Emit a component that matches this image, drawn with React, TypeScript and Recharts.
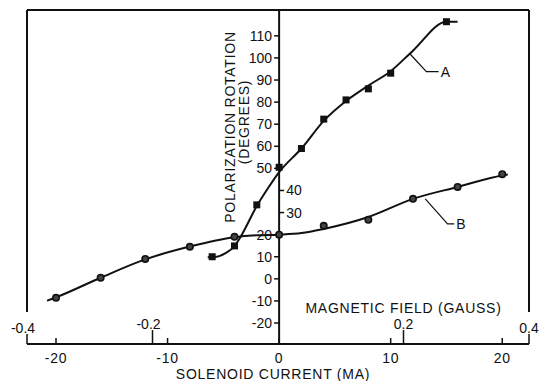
import React from "react";
import {
  ComposedChart,
  Line,
  Scatter,
  XAxis,
  YAxis,
  ReferenceLine,
  ReferenceDot,
} from "recharts";

const FONT = '"Liberation Sans", Arial, sans-serif';
const INK = "#111";

// solenoid current (mA), bottom scale
const currentTicks = [-20, -10, 0, 10, 20];
const currentDomain = [-22.6, 22.4];
// magnetic field (gauss), drawn on the same baseline; its span is the full plot width
const fieldTicks = [-0.4, -0.2, 0.2, 0.4];
const fieldDomain = [-0.4, 0.4];
// polarization rotation (degrees)
const rotationDomain = [-29.5, 121.7];
const rotationTicksLeft = [110, 100, 90, 80, 70, 60, 50, 20, 10, 0, -10, -20];
const rotationTicksRight = [40, 30];

// curve A (squares)
const pointsA = [
  { x: -6, y: 10 },
  { x: -4, y: 14.9 },
  { x: -2, y: 33.5 },
  { x: 0, y: 50.5 },
  { x: 2, y: 59 },
  { x: 4, y: 72.3 },
  { x: 6, y: 81 },
  { x: 8, y: 86 },
  { x: 10, y: 93.1 },
  { x: 15, y: 116.4 },
];
const curveA = [
  { x: -6.4, y: 9.8 },
  { x: -5.6, y: 10 },
  { x: -4.8, y: 11.6 },
  { x: -4, y: 14.8 },
  { x: -3.4, y: 19.5 },
  { x: -2, y: 33 },
  { x: -1, y: 41 },
  { x: 0, y: 48.3 },
  { x: 2, y: 59 },
  { x: 4, y: 71.5 },
  { x: 6, y: 80.5 },
  { x: 8, y: 87.5 },
  { x: 10, y: 94 },
  { x: 12, y: 103.3 },
  { x: 15, y: 116.4 },
  { x: 16, y: 116.4 },
];

// curve B (circles)
const pointsB = [
  { x: -20, y: -8.6 },
  { x: -16, y: 0.5 },
  { x: -12, y: 9 },
  { x: -8, y: 14.5 },
  { x: -4, y: 19 },
  { x: 0, y: 20 },
  { x: 4, y: 24 },
  { x: 8, y: 26.7 },
  { x: 12, y: 36.2 },
  { x: 16, y: 41.6 },
  { x: 20, y: 47.4 },
];
const curveB = [
  { x: -20.8, y: -9.9 },
  { x: -20, y: -8.4 },
  { x: -16, y: 0.5 },
  { x: -12, y: 8.8 },
  { x: -8, y: 14.6 },
  { x: -4, y: 18.8 },
  { x: -2, y: 19.7 },
  { x: 0, y: 20 },
  { x: 2, y: 20.7 },
  { x: 4, y: 22.6 },
  { x: 8, y: 28 },
  { x: 12, y: 36.2 },
  { x: 16, y: 41.6 },
  { x: 20, y: 46.8 },
  { x: 20.5, y: 47.2 },
];

const leaderA = [
  { x: 11.7, y: 102 },
  { x: 13.2, y: 93.8 },
  { x: 14.3, y: 93.8 },
];
const leaderB = [
  { x: 13.1, y: 36.2 },
  { x: 15.1, y: 24.9 },
  { x: 15.7, y: 24.9 },
];

// gauss -> mA position on the shared baseline
const fieldToCurrent = (g: number) =>
  currentDomain[0] +
  ((g - fieldDomain[0]) / (fieldDomain[1] - fieldDomain[0])) *
    (currentDomain[1] - currentDomain[0]);

const titleStyle: React.CSSProperties = {
  fontFamily: FONT,
  fontSize: 14,
  letterSpacing: 0.75,
  fill: INK,
};

function CurrentTick({ x, y, payload }: any) {
  return (
    <g>
      <line x1={x} x2={x} y1={y} y2={y - 6} stroke={INK} strokeWidth={1.5} />
      <text x={x} y={y + 19} textAnchor="middle" style={titleStyle}>
        {payload.value}
      </text>
    </g>
  );
}

function Square({ cx, cy }: any) {
  return <rect x={cx - 3.5} y={cy - 3.5} width={7} height={7} fill={INK} />;
}

function Dot({ cx, cy }: any) {
  return <circle cx={cx} cy={cy} r={3.2} fill="#444" stroke={INK} strokeWidth={1.6} />;
}

const bottomTitle = ({ viewBox }: any) => (
  <text
    x={viewBox.x + viewBox.width / 2 - 5}
    y={viewBox.y + viewBox.height - 2}
    textAnchor="middle"
    style={titleStyle}
  >
    SOLENOID CURRENT (MA)
  </text>
);

const rotationTitle = ({ viewBox }: any) => (
  <g style={titleStyle}>
    <text
      transform={`translate(${viewBox.x - 44},${viewBox.y + 117}) rotate(-90)`}
      textAnchor="middle"
    >
      POLARIZATION ROTATION
    </text>
    <text
      transform={`translate(${viewBox.x - 30},${viewBox.y + 112}) rotate(-90)`}
      textAnchor="middle"
    >
      (DEGREES)
    </text>
  </g>
);

const fieldTitle = ({ viewBox }: any) => (
  <text x={viewBox.x} y={viewBox.y - 17} textAnchor="middle" style={titleStyle}>
    MAGNETIC FIELD (GAUSS)
  </text>
);

export default function App() {
  const [yMin, yMax] = rotationDomain;
  const xLeft = fieldToCurrent(fieldDomain[0]);
  const xRight = fieldToCurrent(fieldDomain[1]);
  return (
    <div style={{ position: "absolute", left: 0, top: 0, fontFamily: FONT }}>
      <ComposedChart
        width={539}
        height={381}
        margin={{ top: 10, right: 10, bottom: 0, left: 27 }}
      >
        <XAxis
          dataKey="x"
          type="number"
          domain={currentDomain}
          ticks={currentTicks}
          allowDataOverflow
          interval={0}
          height={37}
          axisLine={{ stroke: INK, strokeWidth: 2 }}
          tickLine={false}
          tickSize={0}
          tickMargin={0}
          tick={CurrentTick}
          label={{ content: bottomTitle }}
        />
        <YAxis type="number" domain={rotationDomain} allowDataOverflow hide />

        {/* frame */}
        <ReferenceLine y={yMax} stroke={INK} strokeWidth={2} />
        <ReferenceLine
          segment={[{ x: xLeft, y: -15 }, { x: xLeft, y: yMax }]}
          stroke={INK}
          strokeWidth={2}
        />
        <ReferenceLine
          segment={[{ x: xRight, y: -15 }, { x: xRight, y: yMax }]}
          stroke={INK}
          strokeWidth={2}
        />

        {/* vertical rotation axis at zero current */}
        <ReferenceLine
          x={0}
          stroke={INK}
          strokeWidth={2}
          label={{ content: rotationTitle }}
        />
        {rotationTicksLeft.map((v) => (
          <ReferenceLine
            key={`l${v}`}
            segment={[{ x: -0.45, y: v }, { x: 0, y: v }]}
            stroke={INK}
            strokeWidth={1.5}
            label={{ value: String(v), position: "left", offset: 2, fontSize: 14, fill: INK }}
          />
        ))}
        {rotationTicksRight.map((v) => (
          <ReferenceLine
            key={`r${v}`}
            segment={[{ x: 0, y: v }, { x: 0.45, y: v }]}
            stroke={INK}
            strokeWidth={1.5}
            label={{ value: String(v), position: "right", offset: 2, fontSize: 14, fill: INK }}
          />
        ))}

        {/* magnetic field scale */}
        {fieldTicks.map((v) => (
          <ReferenceLine
            key={`g${v}`}
            segment={[
              { x: fieldToCurrent(v), y: yMin },
              { x: fieldToCurrent(v), y: Math.abs(v) > 0.3 ? -25 : -23.2 },
            ]}
            stroke={INK}
            strokeWidth={1.5}
            label={{
              value: String(v),
              position: "top",
              offset: 1,
              dx: v < 0 ? -4 : 0,
              fontSize: 14,
              fill: INK,
            }}
          />
        ))}
        <ReferenceLine
          segment={[
            { x: fieldToCurrent(0.2), y: -23.2 },
            { x: fieldToCurrent(0.2), y: -23.2 },
          ]}
          stroke="none"
          label={{ content: fieldTitle }}
        />

        <Line
          data={curveA}
          dataKey="y"
          type="monotone"
          stroke={INK}
          strokeWidth={2}
          dot={false}
          isAnimationActive={false}
        />
        <Line
          data={curveB}
          dataKey="y"
          type="monotone"
          stroke={INK}
          strokeWidth={2}
          dot={false}
          isAnimationActive={false}
        />
        <Line
          data={leaderA}
          dataKey="y"
          type="linear"
          stroke={INK}
          strokeWidth={1.2}
          dot={false}
          isAnimationActive={false}
        />
        <Line
          data={leaderB}
          dataKey="y"
          type="linear"
          stroke={INK}
          strokeWidth={1.2}
          dot={false}
          isAnimationActive={false}
        />
        <Scatter data={pointsA} dataKey="y" shape={Square} isAnimationActive={false} />
        <Scatter data={pointsB} dataKey="y" shape={Dot} isAnimationActive={false} />

        <ReferenceDot
          x={leaderA[2].x}
          y={leaderA[2].y}
          r={0}
          fill="none"
          stroke="none"
          label={{ value: "A", position: "right", offset: 2, fontSize: 14, fill: INK }}
        />
        <ReferenceDot
          x={leaderB[2].x}
          y={leaderB[2].y}
          r={0}
          fill="none"
          stroke="none"
          label={{ value: "B", position: "right", offset: 2, fontSize: 14, fill: INK }}
        />
      </ComposedChart>
    </div>
  );
}
